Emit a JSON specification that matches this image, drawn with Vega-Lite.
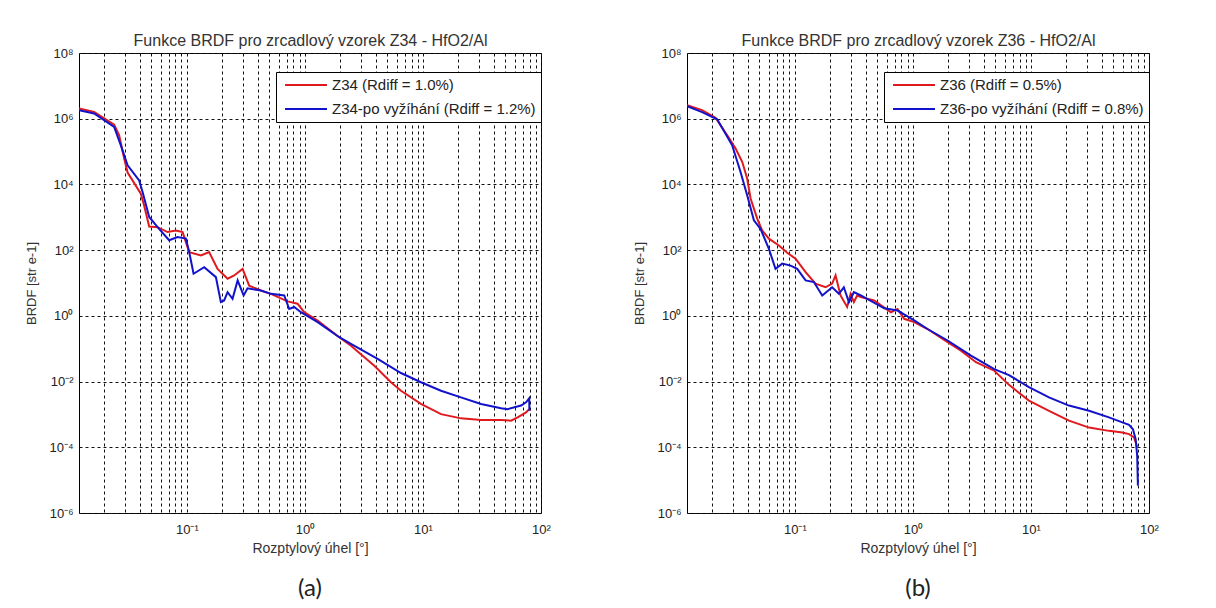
{
  "$schema": "https://vega.github.io/schema/vega-lite/v6.json",
  "padding": {"left": 25, "top": 31, "right": 5, "bottom": 5},
  "background": "white",
  "config": {
    "view": {"stroke": "black", "strokeWidth": 1},
    "font": "Liberation Sans",
    "axis": {"labelFont": "Liberation Sans", "titleFont": "Liberation Sans", "labelColor": "#222", "titleColor": "#333", "titleFontWeight": "normal"},
    "legend": {"labelFont": "Liberation Sans"},
    "title": {"font": "Lato", "fontWeight": "normal", "color": "#222"}
  },
  "datasets": {
    "a": [
      {"uhel": 0.01222, "brdf": 2.04e6, "serie": "Z34 (Rdiff = 1.0%)"},
      {"uhel": 0.01637, "brdf": 1.62e6, "serie": "Z34 (Rdiff = 1.0%)"},
      {"uhel": 0.02421, "brdf": 6.61e5, "serie": "Z34 (Rdiff = 1.0%)"},
      {"uhel": 0.02667, "brdf": 3.16e5, "serie": "Z34 (Rdiff = 1.0%)"},
      {"uhel": 0.02944, "brdf": 6.17e4, "serie": "Z34 (Rdiff = 1.0%)"},
      {"uhel": 0.03148, "brdf": 2.29e4, "serie": "Z34 (Rdiff = 1.0%)"},
      {"uhel": 0.04074, "brdf": 5250, "serie": "Z34 (Rdiff = 1.0%)"},
      {"uhel": 0.04345, "brdf": 2290, "serie": "Z34 (Rdiff = 1.0%)"},
      {"uhel": 0.04797, "brdf": 525, "serie": "Z34 (Rdiff = 1.0%)"},
      {"uhel": 0.05649, "brdf": 501, "serie": "Z34 (Rdiff = 1.0%)"},
      {"uhel": 0.06855, "brdf": 355, "serie": "Z34 (Rdiff = 1.0%)"},
      {"uhel": 0.08072, "brdf": 398, "serie": "Z34 (Rdiff = 1.0%)"},
      {"uhel": 0.09204, "brdf": 355, "serie": "Z34 (Rdiff = 1.0%)"},
      {"uhel": 0.1047, "brdf": 87, "serie": "Z34 (Rdiff = 1.0%)"},
      {"uhel": 0.1315, "brdf": 69, "serie": "Z34 (Rdiff = 1.0%)"},
      {"uhel": 0.1545, "brdf": 87, "serie": "Z34 (Rdiff = 1.0%)"},
      {"uhel": 0.182, "brdf": 26.9, "serie": "Z34 (Rdiff = 1.0%)"},
      {"uhel": 0.2213, "brdf": 13.5, "serie": "Z34 (Rdiff = 1.0%)"},
      {"uhel": 0.2518, "brdf": 17.0, "serie": "Z34 (Rdiff = 1.0%)"},
      {"uhel": 0.2965, "brdf": 26.9, "serie": "Z34 (Rdiff = 1.0%)"},
      {"uhel": 0.3373, "brdf": 8.3, "serie": "Z34 (Rdiff = 1.0%)"},
      {"uhel": 0.4236, "brdf": 5.9, "serie": "Z34 (Rdiff = 1.0%)"},
      {"uhel": 0.5152, "brdf": 4.68, "serie": "Z34 (Rdiff = 1.0%)"},
      {"uhel": 0.7129, "brdf": 2.75, "serie": "Z34 (Rdiff = 1.0%)"},
      {"uhel": 0.867, "brdf": 2.34, "serie": "Z34 (Rdiff = 1.0%)"},
      {"uhel": 0.986, "brdf": 1.29, "serie": "Z34 (Rdiff = 1.0%)"},
      {"uhel": 1.282, "brdf": 0.724, "serie": "Z34 (Rdiff = 1.0%)"},
      {"uhel": 1.954, "brdf": 0.224, "serie": "Z34 (Rdiff = 1.0%)"},
      {"uhel": 2.455, "brdf": 0.123, "serie": "Z34 (Rdiff = 1.0%)"},
      {"uhel": 3.873, "brdf": 0.0302, "serie": "Z34 (Rdiff = 1.0%)"},
      {"uhel": 5.358, "brdf": 0.00955, "serie": "Z34 (Rdiff = 1.0%)"},
      {"uhel": 6.516, "brdf": 0.00525, "serie": "Z34 (Rdiff = 1.0%)"},
      {"uhel": 9.616, "brdf": 0.00209, "serie": "Z34 (Rdiff = 1.0%)"},
      {"uhel": 14.22, "brdf": 0.00102, "serie": "Z34 (Rdiff = 1.0%)"},
      {"uhel": 20.99, "brdf": 0.000759, "serie": "Z34 (Rdiff = 1.0%)"},
      {"uhel": 31.05, "brdf": 0.000676, "serie": "Z34 (Rdiff = 1.0%)"},
      {"uhel": 45.81, "brdf": 0.000676, "serie": "Z34 (Rdiff = 1.0%)"},
      {"uhel": 55.72, "brdf": 0.000646, "serie": "Z34 (Rdiff = 1.0%)"},
      {"uhel": 63.39, "brdf": 0.000813, "serie": "Z34 (Rdiff = 1.0%)"},
      {"uhel": 74.65, "brdf": 0.00115, "serie": "Z34 (Rdiff = 1.0%)"},
      {"uhel": 79.43, "brdf": 0.00145, "serie": "Z34 (Rdiff = 1.0%)"},
      {"uhel": 0.01222, "brdf": 1.82e6, "serie": "Z34-po vyžíhání (Rdiff = 1.2%)"},
      {"uhel": 0.01637, "brdf": 1.45e6, "serie": "Z34-po vyžíhání (Rdiff = 1.2%)"},
      {"uhel": 0.02421, "brdf": 5.62e5, "serie": "Z34-po vyžíhání (Rdiff = 1.2%)"},
      {"uhel": 0.0276, "brdf": 1.55e5, "serie": "Z34-po vyžíhání (Rdiff = 1.2%)"},
      {"uhel": 0.03148, "brdf": 3.8e4, "serie": "Z34-po vyžíhání (Rdiff = 1.2%)"},
      {"uhel": 0.03945, "brdf": 1.32e4, "serie": "Z34-po vyžíhání (Rdiff = 1.2%)"},
      {"uhel": 0.04217, "brdf": 5890, "serie": "Z34-po vyžíhání (Rdiff = 1.2%)"},
      {"uhel": 0.04797, "brdf": 1020, "serie": "Z34-po vyžíhání (Rdiff = 1.2%)"},
      {"uhel": 0.05649, "brdf": 501, "serie": "Z34-po vyžíhání (Rdiff = 1.2%)"},
      {"uhel": 0.07079, "brdf": 200, "serie": "Z34-po vyžíhání (Rdiff = 1.2%)"},
      {"uhel": 0.08337, "brdf": 251, "serie": "Z34-po vyžíhání (Rdiff = 1.2%)"},
      {"uhel": 0.09817, "brdf": 224, "serie": "Z34-po vyžíhání (Rdiff = 1.2%)"},
      {"uhel": 0.1047, "brdf": 87, "serie": "Z34-po vyžíhání (Rdiff = 1.2%)"},
      {"uhel": 0.114, "brdf": 19.1, "serie": "Z34-po vyžíhání (Rdiff = 1.2%)"},
      {"uhel": 0.1403, "brdf": 30.2, "serie": "Z34-po vyžíhání (Rdiff = 1.2%)"},
      {"uhel": 0.1762, "brdf": 15.1, "serie": "Z34-po vyžíhání (Rdiff = 1.2%)"},
      {"uhel": 0.1941, "brdf": 2.63, "serie": "Z34-po vyžíhání (Rdiff = 1.2%)"},
      {"uhel": 0.207, "brdf": 2.95, "serie": "Z34-po vyžíhání (Rdiff = 1.2%)"},
      {"uhel": 0.2213, "brdf": 5.25, "serie": "Z34-po vyžíhání (Rdiff = 1.2%)"},
      {"uhel": 0.2438, "brdf": 3.31, "serie": "Z34-po vyžíhání (Rdiff = 1.2%)"},
      {"uhel": 0.2692, "brdf": 12.0, "serie": "Z34-po vyžíhání (Rdiff = 1.2%)"},
      {"uhel": 0.3027, "brdf": 4.17, "serie": "Z34-po vyžíhání (Rdiff = 1.2%)"},
      {"uhel": 0.3266, "brdf": 6.92, "serie": "Z34-po vyžíhání (Rdiff = 1.2%)"},
      {"uhel": 0.4236, "brdf": 5.89, "serie": "Z34-po vyžíhání (Rdiff = 1.2%)"},
      {"uhel": 0.5152, "brdf": 4.68, "serie": "Z34-po vyžíhání (Rdiff = 1.2%)"},
      {"uhel": 0.6683, "brdf": 4.17, "serie": "Z34-po vyžíhání (Rdiff = 1.2%)"},
      {"uhel": 0.7362, "brdf": 1.62, "serie": "Z34-po vyžíhání (Rdiff = 1.2%)"},
      {"uhel": 0.811, "brdf": 1.86, "serie": "Z34-po vyžíhání (Rdiff = 1.2%)"},
      {"uhel": 0.9247, "brdf": 1.29, "serie": "Z34-po vyžíhání (Rdiff = 1.2%)"},
      {"uhel": 1.282, "brdf": 0.646, "serie": "Z34-po vyžíhání (Rdiff = 1.2%)"},
      {"uhel": 1.954, "brdf": 0.224, "serie": "Z34-po vyžíhání (Rdiff = 1.2%)"},
      {"uhel": 2.455, "brdf": 0.141, "serie": "Z34-po vyžíhání (Rdiff = 1.2%)"},
      {"uhel": 4.13, "brdf": 0.049, "serie": "Z34-po vyžíhání (Rdiff = 1.2%)"},
      {"uhel": 6.516, "brdf": 0.0182, "serie": "Z34-po vyžíhání (Rdiff = 1.2%)"},
      {"uhel": 9.616, "brdf": 0.00955, "serie": "Z34-po vyžíhání (Rdiff = 1.2%)"},
      {"uhel": 14.22, "brdf": 0.00525, "serie": "Z34-po vyžíhání (Rdiff = 1.2%)"},
      {"uhel": 20.99, "brdf": 0.00331, "serie": "Z34-po vyžíhání (Rdiff = 1.2%)"},
      {"uhel": 31.05, "brdf": 0.00209, "serie": "Z34-po vyžíhání (Rdiff = 1.2%)"},
      {"uhel": 45.81, "brdf": 0.00155, "serie": "Z34-po vyžíhání (Rdiff = 1.2%)"},
      {"uhel": 52.24, "brdf": 0.00145, "serie": "Z34-po vyžíhání (Rdiff = 1.2%)"},
      {"uhel": 67.76, "brdf": 0.00186, "serie": "Z34-po vyžíhání (Rdiff = 1.2%)"},
      {"uhel": 74.65, "brdf": 0.00234, "serie": "Z34-po vyžíhání (Rdiff = 1.2%)"},
      {"uhel": 79.43, "brdf": 0.00309, "serie": "Z34-po vyžíhání (Rdiff = 1.2%)"},
      {"uhel": 79.8, "brdf": 0.00129, "serie": "Z34-po vyžíhání (Rdiff = 1.2%)"}
    ],
    "b": [
      {"uhel": 0.01222, "brdf": 2.57e6, "serie": "Z36 (Rdiff = 0.5%)"},
      {"uhel": 0.01637, "brdf": 1.82e6, "serie": "Z36 (Rdiff = 0.5%)"},
      {"uhel": 0.02128, "brdf": 1.07e6, "serie": "Z36 (Rdiff = 0.5%)"},
      {"uhel": 0.02667, "brdf": 3.16e5, "serie": "Z36 (Rdiff = 0.5%)"},
      {"uhel": 0.03148, "brdf": 1.23e5, "serie": "Z36 (Rdiff = 0.5%)"},
      {"uhel": 0.03581, "brdf": 4.9e4, "serie": "Z36 (Rdiff = 0.5%)"},
      {"uhel": 0.03945, "brdf": 1.51e4, "serie": "Z36 (Rdiff = 0.5%)"},
      {"uhel": 0.04217, "brdf": 3720, "serie": "Z36 (Rdiff = 0.5%)"},
      {"uhel": 0.04797, "brdf": 912, "serie": "Z36 (Rdiff = 0.5%)"},
      {"uhel": 0.05284, "brdf": 398, "serie": "Z36 (Rdiff = 0.5%)"},
      {"uhel": 0.06026, "brdf": 224, "serie": "Z36 (Rdiff = 0.5%)"},
      {"uhel": 0.07328, "brdf": 138, "serie": "Z36 (Rdiff = 0.5%)"},
      {"uhel": 0.0861, "brdf": 83.2, "serie": "Z36 (Rdiff = 0.5%)"},
      {"uhel": 0.1014, "brdf": 55, "serie": "Z36 (Rdiff = 0.5%)"},
      {"uhel": 0.1233, "brdf": 21.4, "serie": "Z36 (Rdiff = 0.5%)"},
      {"uhel": 0.1496, "brdf": 9.55, "serie": "Z36 (Rdiff = 0.5%)"},
      {"uhel": 0.182, "brdf": 7.41, "serie": "Z36 (Rdiff = 0.5%)"},
      {"uhel": 0.207, "brdf": 9.55, "serie": "Z36 (Rdiff = 0.5%)"},
      {"uhel": 0.2213, "brdf": 17.0, "serie": "Z36 (Rdiff = 0.5%)"},
      {"uhel": 0.2438, "brdf": 4.17, "serie": "Z36 (Rdiff = 0.5%)"},
      {"uhel": 0.2773, "brdf": 1.86, "serie": "Z36 (Rdiff = 0.5%)"},
      {"uhel": 0.2965, "brdf": 4.68, "serie": "Z36 (Rdiff = 0.5%)"},
      {"uhel": 0.3162, "brdf": 2.63, "serie": "Z36 (Rdiff = 0.5%)"},
      {"uhel": 0.3373, "brdf": 4.17, "serie": "Z36 (Rdiff = 0.5%)"},
      {"uhel": 0.3622, "brdf": 3.72, "serie": "Z36 (Rdiff = 0.5%)"},
      {"uhel": 0.4699, "brdf": 2.95, "serie": "Z36 (Rdiff = 0.5%)"},
      {"uhel": 0.6516, "brdf": 1.29, "serie": "Z36 (Rdiff = 0.5%)"},
      {"uhel": 0.7413, "brdf": 1.62, "serie": "Z36 (Rdiff = 0.5%)"},
      {"uhel": 0.8433, "brdf": 0.813, "serie": "Z36 (Rdiff = 0.5%)"},
      {"uhel": 1.026, "brdf": 0.646, "serie": "Z36 (Rdiff = 0.5%)"},
      {"uhel": 1.33, "brdf": 0.398, "serie": "Z36 (Rdiff = 0.5%)"},
      {"uhel": 1.968, "brdf": 0.158, "serie": "Z36 (Rdiff = 0.5%)"},
      {"uhel": 2.553, "brdf": 0.0871, "serie": "Z36 (Rdiff = 0.5%)"},
      {"uhel": 3.42, "brdf": 0.0389, "serie": "Z36 (Rdiff = 0.5%)"},
      {"uhel": 4.887, "brdf": 0.0214, "serie": "Z36 (Rdiff = 0.5%)"},
      {"uhel": 6.516, "brdf": 0.00794, "serie": "Z36 (Rdiff = 0.5%)"},
      {"uhel": 9.616, "brdf": 0.00263, "serie": "Z36 (Rdiff = 0.5%)"},
      {"uhel": 14.22, "brdf": 0.00129, "serie": "Z36 (Rdiff = 0.5%)"},
      {"uhel": 20.99, "brdf": 0.000646, "serie": "Z36 (Rdiff = 0.5%)"},
      {"uhel": 31.05, "brdf": 0.000398, "serie": "Z36 (Rdiff = 0.5%)"},
      {"uhel": 45.81, "brdf": 0.000316, "serie": "Z36 (Rdiff = 0.5%)"},
      {"uhel": 59.43, "brdf": 0.000282, "serie": "Z36 (Rdiff = 0.5%)"},
      {"uhel": 67.76, "brdf": 0.000251, "serie": "Z36 (Rdiff = 0.5%)"},
      {"uhel": 74.65, "brdf": 0.0002, "serie": "Z36 (Rdiff = 0.5%)"},
      {"uhel": 77.98, "brdf": 0.000126, "serie": "Z36 (Rdiff = 0.5%)"},
      {"uhel": 79.43, "brdf": 0.0001, "serie": "Z36 (Rdiff = 0.5%)"},
      {"uhel": 0.01222, "brdf": 2.4e6, "serie": "Z36-po vyžíhání (Rdiff = 0.8%)"},
      {"uhel": 0.01637, "brdf": 1.58e6, "serie": "Z36-po vyžíhání (Rdiff = 0.8%)"},
      {"uhel": 0.02198, "brdf": 9.55e5, "serie": "Z36-po vyžíhání (Rdiff = 0.8%)"},
      {"uhel": 0.02944, "brdf": 1.55e5, "serie": "Z36-po vyžíhání (Rdiff = 0.8%)"},
      {"uhel": 0.03467, "brdf": 2.4e4, "serie": "Z36-po vyžíhání (Rdiff = 0.8%)"},
      {"uhel": 0.03945, "brdf": 4680, "serie": "Z36-po vyžíhání (Rdiff = 0.8%)"},
      {"uhel": 0.04498, "brdf": 813, "serie": "Z36-po vyžíhání (Rdiff = 0.8%)"},
      {"uhel": 0.05117, "brdf": 447, "serie": "Z36-po vyžíhání (Rdiff = 0.8%)"},
      {"uhel": 0.06026, "brdf": 110, "serie": "Z36-po vyžíhání (Rdiff = 0.8%)"},
      {"uhel": 0.06855, "brdf": 26.9, "serie": "Z36-po vyžíhání (Rdiff = 0.8%)"},
      {"uhel": 0.07816, "brdf": 38.9, "serie": "Z36-po vyžíhání (Rdiff = 0.8%)"},
      {"uhel": 0.09204, "brdf": 33.9, "serie": "Z36-po vyžíhání (Rdiff = 0.8%)"},
      {"uhel": 0.1047, "brdf": 26.9, "serie": "Z36-po vyžíhání (Rdiff = 0.8%)"},
      {"uhel": 0.1233, "brdf": 12.0, "serie": "Z36-po vyžíhání (Rdiff = 0.8%)"},
      {"uhel": 0.1449, "brdf": 10.7, "serie": "Z36-po vyžíhání (Rdiff = 0.8%)"},
      {"uhel": 0.1706, "brdf": 4.17, "serie": "Z36-po vyžíhání (Rdiff = 0.8%)"},
      {"uhel": 0.207, "brdf": 7.41, "serie": "Z36-po vyžíhání (Rdiff = 0.8%)"},
      {"uhel": 0.236, "brdf": 4.68, "serie": "Z36-po vyžíhání (Rdiff = 0.8%)"},
      {"uhel": 0.26, "brdf": 7.41, "serie": "Z36-po vyžíhání (Rdiff = 0.8%)"},
      {"uhel": 0.2871, "brdf": 2.63, "serie": "Z36-po vyžíhání (Rdiff = 0.8%)"},
      {"uhel": 0.3162, "brdf": 5.25, "serie": "Z36-po vyžíhání (Rdiff = 0.8%)"},
      {"uhel": 0.3622, "brdf": 4.17, "serie": "Z36-po vyžíhání (Rdiff = 0.8%)"},
      {"uhel": 0.5715, "brdf": 1.7, "serie": "Z36-po vyžíhání (Rdiff = 0.8%)"},
      {"uhel": 0.7413, "brdf": 1.45, "serie": "Z36-po vyžíhání (Rdiff = 0.8%)"},
      {"uhel": 1.026, "brdf": 0.724, "serie": "Z36-po vyžíhání (Rdiff = 0.8%)"},
      {"uhel": 1.33, "brdf": 0.398, "serie": "Z36-po vyžíhání (Rdiff = 0.8%)"},
      {"uhel": 1.968, "brdf": 0.178, "serie": "Z36-po vyžíhání (Rdiff = 0.8%)"},
      {"uhel": 3.105, "brdf": 0.0617, "serie": "Z36-po vyžíhání (Rdiff = 0.8%)"},
      {"uhel": 4.887, "brdf": 0.024, "serie": "Z36-po vyžíhání (Rdiff = 0.8%)"},
      {"uhel": 6.516, "brdf": 0.0158, "serie": "Z36-po vyžíhání (Rdiff = 0.8%)"},
      {"uhel": 9.616, "brdf": 0.00676, "serie": "Z36-po vyžíhání (Rdiff = 0.8%)"},
      {"uhel": 14.22, "brdf": 0.00331, "serie": "Z36-po vyžíhání (Rdiff = 0.8%)"},
      {"uhel": 20.99, "brdf": 0.00186, "serie": "Z36-po vyžíhání (Rdiff = 0.8%)"},
      {"uhel": 31.05, "brdf": 0.00129, "serie": "Z36-po vyžíhání (Rdiff = 0.8%)"},
      {"uhel": 45.81, "brdf": 0.000813, "serie": "Z36-po vyžíhání (Rdiff = 0.8%)"},
      {"uhel": 59.43, "brdf": 0.000575, "serie": "Z36-po vyžíhání (Rdiff = 0.8%)"},
      {"uhel": 67.76, "brdf": 0.000479, "serie": "Z36-po vyžíhání (Rdiff = 0.8%)"},
      {"uhel": 73.11, "brdf": 0.000355, "serie": "Z36-po vyžíhání (Rdiff = 0.8%)"},
      {"uhel": 77.09, "brdf": 0.000178, "serie": "Z36-po vyžíhání (Rdiff = 0.8%)"},
      {"uhel": 79.43, "brdf": 5.5e-5, "serie": "Z36-po vyžíhání (Rdiff = 0.8%)"},
      {"uhel": 80.54, "brdf": 6.8e-6, "serie": "Z36-po vyžíhání (Rdiff = 0.8%)"}
    ]
  },
  "hconcat": [
    {
      "width": 462, "height": 460,
      "title": {"text": "(a)", "orient": "bottom", "fontSize": 24, "offset": 22},
      "data": {"name": "a"},
      "layer": [
        {
          "mark": {"type": "line", "strokeWidth": 2, "clip": true},
          "encoding": {
            "x": {"field": "uhel", "type": "quantitative",
              "scale": {"type": "log", "domain": [0.0122, 100], "nice": false},
              "axis": {"orient": "bottom", "title": "Rozptylový úhel [°]", "titleFontSize": 14, "titlePadding": 5,
                "values": [0.02,0.03,0.04,0.05,0.06,0.07,0.08,0.09,0.1,0.2,0.3,0.4,0.5,0.6,0.7,0.8,0.9,1,2,3,4,5,6,7,8,9,10,20,30,40,50,60,70,80,90,100],
                "labelExpr": "datum.value == 0.1 ? '10⁻¹' : datum.value == 1 ? '10⁰' : datum.value == 10 ? '10¹' : datum.value == 100 ? '10²' : ''",
                "labelOverlap": false, "labelFlush": false, "labelFontSize": 13, "labelPadding": 10,
                "ticks": false, "domain": false,
                "grid": true, "gridColor": "#111", "gridDash": [3, 3], "gridWidth": 1, "gridOpacity": 1}},
            "y": {"field": "brdf", "type": "quantitative",
              "scale": {"type": "log", "domain": [1e-6, 1e8], "nice": false},
              "axis": {"title": "BRDF [str e-1]", "titleFontSize": 13, "titlePadding": 10,
                "values": [1e-6, 1e-4, 1e-2, 1, 1e2, 1e4, 1e6, 1e8],
                "labelExpr": "datum.value == 1e8 ? '10⁸' : datum.value == 1e6 ? '10⁶' : datum.value == 1e4 ? '10⁴' : datum.value == 100 ? '10²' : datum.value == 1 ? '10⁰' : datum.value == 0.01 ? '10⁻²' : datum.value == 0.0001 ? '10⁻⁴' : '10⁻⁶'",
                "labelOverlap": false, "labelFlush": false, "labelFontSize": 13, "labelPadding": 6,
                "ticks": false, "domain": false,
                "grid": true, "gridColor": "#111", "gridDash": [3, 3], "gridWidth": 1, "gridOpacity": 1}},
            "color": {"field": "serie", "type": "nominal",
              "scale": {"domain": ["Z34 (Rdiff = 1.0%)", "Z34-po vyžíhání (Rdiff = 1.2%)"], "range": ["#e0191f", "#1212cc"]},
              "legend": {"title": null, "orient": "none", "legendX": 197, "legendY": 19,
                "symbolType": "M-3,0H3", "symbolSize": 196, "symbolStrokeWidth": 2, "symbolOffset": 17,
                "labelFontSize": 15, "labelColor": "#222", "labelOffset": 18, "rowPadding": 8,
                "padding": 5, "strokeColor": "black", "fillColor": "white", "labelLimit": 400}}
          }
        },
        {
          "mark": {"type": "line", "opacity": 0},
          "encoding": {
            "x": {"field": "uhel", "type": "quantitative",
              "scale": {"type": "log", "domain": [0.0122, 100], "nice": false},
              "axis": {"orient": "top", "title": "Funkce BRDF pro zrcadlový vzorek Z34 - HfO2/Al", "titleFontSize": 16, "titlePadding": 5,
                "labels": false, "ticks": false, "domain": false, "grid": false}}
          }
        }
      ],
      "resolve": {"axis": {"x": "independent"}}
    },
    {
      "width": 462, "height": 460,
      "title": {"text": "(b)", "orient": "bottom", "fontSize": 24, "offset": 22},
      "data": {"name": "b"},
      "layer": [
        {
          "mark": {"type": "line", "strokeWidth": 2, "clip": true},
          "encoding": {
            "x": {"field": "uhel", "type": "quantitative",
              "scale": {"type": "log", "domain": [0.0122, 100], "nice": false},
              "axis": {"orient": "bottom", "title": "Rozptylový úhel [°]", "titleFontSize": 14, "titlePadding": 5,
                "values": [0.02,0.03,0.04,0.05,0.06,0.07,0.08,0.09,0.1,0.2,0.3,0.4,0.5,0.6,0.7,0.8,0.9,1,2,3,4,5,6,7,8,9,10,20,30,40,50,60,70,80,90,100],
                "labelExpr": "datum.value == 0.1 ? '10⁻¹' : datum.value == 1 ? '10⁰' : datum.value == 10 ? '10¹' : datum.value == 100 ? '10²' : ''",
                "labelOverlap": false, "labelFlush": false, "labelFontSize": 13, "labelPadding": 10,
                "ticks": false, "domain": false,
                "grid": true, "gridColor": "#111", "gridDash": [3, 3], "gridWidth": 1, "gridOpacity": 1}},
            "y": {"field": "brdf", "type": "quantitative",
              "scale": {"type": "log", "domain": [1e-6, 1e8], "nice": false},
              "axis": {"title": "BRDF [str e-1]", "titleFontSize": 13, "titlePadding": 10,
                "values": [1e-6, 1e-4, 1e-2, 1, 1e2, 1e4, 1e6, 1e8],
                "labelExpr": "datum.value == 1e8 ? '10⁸' : datum.value == 1e6 ? '10⁶' : datum.value == 1e4 ? '10⁴' : datum.value == 100 ? '10²' : datum.value == 1 ? '10⁰' : datum.value == 0.01 ? '10⁻²' : datum.value == 0.0001 ? '10⁻⁴' : '10⁻⁶'",
                "labelOverlap": false, "labelFlush": false, "labelFontSize": 13, "labelPadding": 6,
                "ticks": false, "domain": false,
                "grid": true, "gridColor": "#111", "gridDash": [3, 3], "gridWidth": 1, "gridOpacity": 1}},
            "color": {"field": "serie", "type": "nominal",
              "scale": {"domain": ["Z36 (Rdiff = 0.5%)", "Z36-po vyžíhání (Rdiff = 0.8%)"], "range": ["#e0191f", "#1212cc"]},
              "legend": {"title": null, "orient": "none", "legendX": 197, "legendY": 19,
                "symbolType": "M-3,0H3", "symbolSize": 196, "symbolStrokeWidth": 2, "symbolOffset": 17,
                "labelFontSize": 15, "labelColor": "#222", "labelOffset": 18, "rowPadding": 8,
                "padding": 5, "strokeColor": "black", "fillColor": "white", "labelLimit": 400}}
          }
        },
        {
          "mark": {"type": "line", "opacity": 0},
          "encoding": {
            "x": {"field": "uhel", "type": "quantitative",
              "scale": {"type": "log", "domain": [0.0122, 100], "nice": false},
              "axis": {"orient": "top", "title": "Funkce BRDF pro zrcadlový vzorek Z36 - HfO2/Al", "titleFontSize": 16, "titlePadding": 5,
                "labels": false, "ticks": false, "domain": false, "grid": false}}
          }
        }
      ],
      "resolve": {"axis": {"x": "independent"}}
    }
  ],
  "spacing": 146,
  "bounds": "flush",
  "resolve": {"scale": {"color": "independent"}, "legend": {"color": "independent"}}
}
